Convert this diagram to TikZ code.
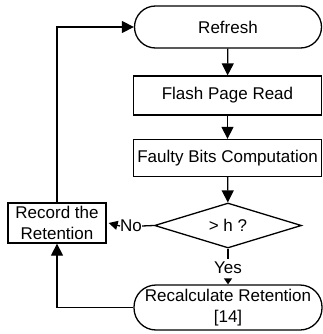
\documentclass[tikz,border=0pt]{standalone}
\usepackage{fontspec}
\setmainfont{Liberation Sans}
\usetikzlibrary{shapes.geometric,arrows.meta}
\begin{document}
\begin{tikzpicture}[x=1pt,y=-1pt,
  every node/.style={font=\fontsize{17}{20.5}\selectfont, inner sep=0pt, align=center},
  box/.style={draw, line width=1.3pt, rectangle},
  term/.style={draw, line width=1.3pt, rectangle, rounded corners=21pt},
  dec/.style={draw, line width=1.3pt, diamond, aspect=3.2},
  lbl/.style={inner sep=0pt},
  arr/.style={line width=1.3pt, -{Triangle[length=12pt,width=12pt]}},
  sarr/.style={line width=1.3pt, -{Triangle[length=9pt,width=9pt]}},
  ln/.style={line width=1.3pt}]
\useasboundingbox (0,0) rectangle (323,334);
\node[term, minimum width=187pt, minimum height=42pt] (ref) at (228,27) {Refresh};
\node[box, minimum width=188pt, minimum height=39pt] (flash) at (227.5,95.5) {Flash Page Read};
\node[box, minimum width=188pt, minimum height=37pt] (faulty) at (227.5,158) {Faulty Bits Computation};
\node[dec, minimum width=147pt, minimum height=45pt] (dia) at (228,225.5) {> h ?};
\node[box, minimum width=98pt, minimum height=40pt] (rec) at (57,223) {Record the\\Retention};
\node[term, minimum width=188pt, minimum height=45pt, rounded corners=22pt] (recal) at (228,307.5) {Recalculate Retention\\{[14]}};
\node[lbl] (yes) at (228,268) {Yes};
\node[lbl] (no) at (131,226) {No};
\draw[arr] (ref) -- (flash);
\draw[arr] (flash) -- (faulty);
\draw[arr] (faulty) -- (dia);
\draw[ln] (dia.west) -- (no.east);
\draw[sarr] (no.west) -- ([xshift=2pt]rec.east);
\draw[ln] (dia.south) -- ([yshift=3pt]yes.north);
\draw[-{Triangle[length=6pt,width=8pt]}, line width=1.3pt] ([yshift=-5pt]yes.south) -- (recal.north);
\draw[arr] (rec.north) |- (ref.west);
\draw[arr] (recal.west) -| (rec.south);
\end{tikzpicture}
\end{document}
